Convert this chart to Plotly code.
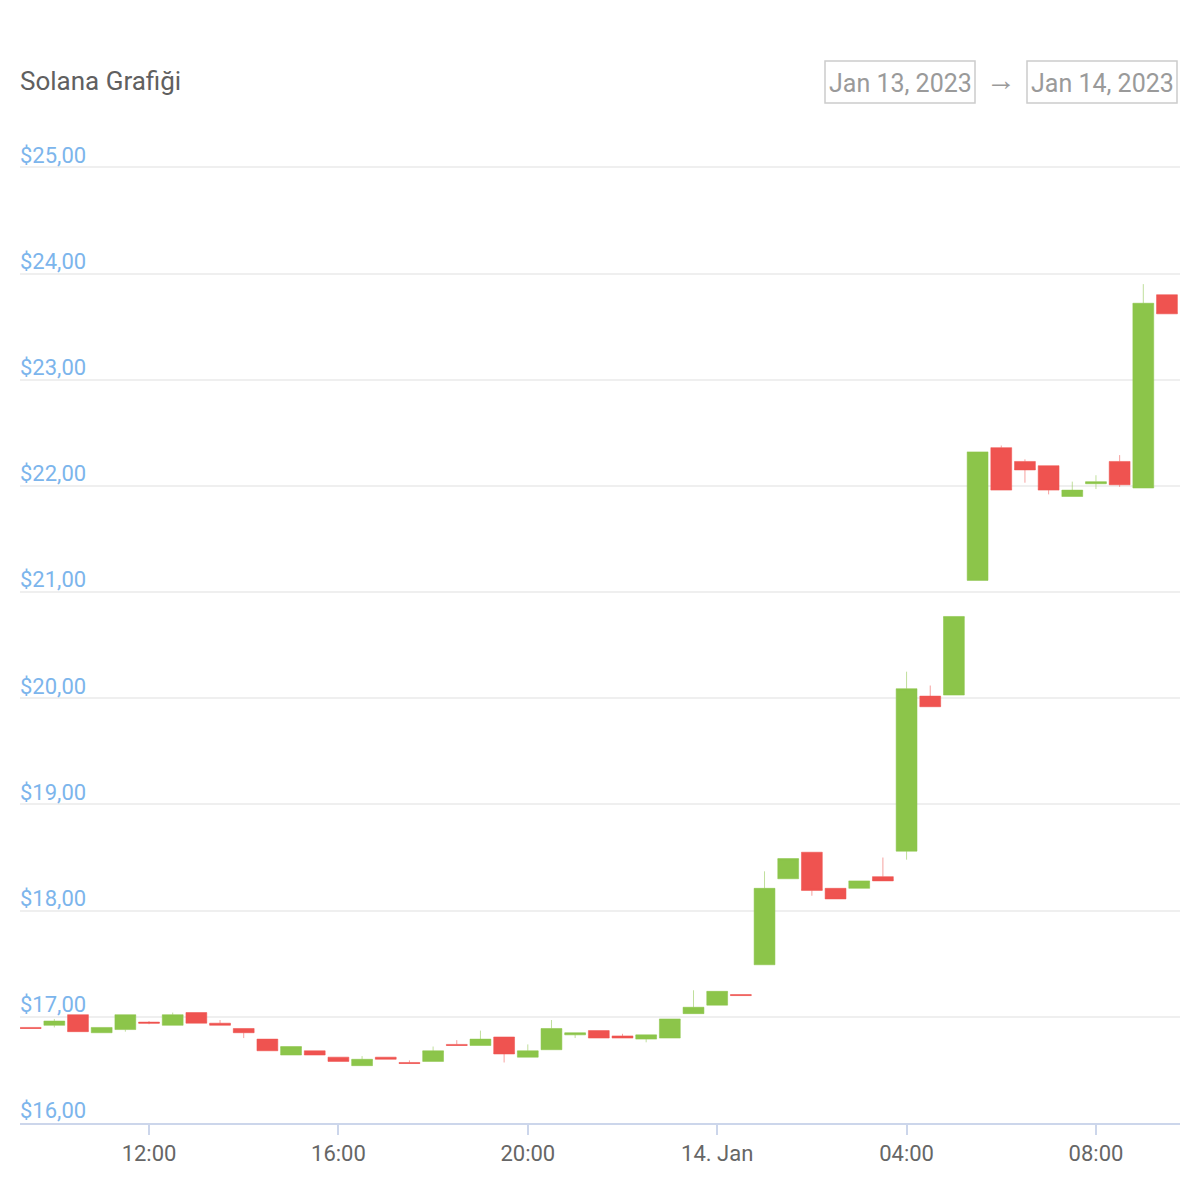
import pandas as pd
import plotly.graph_objects as go

times = pd.date_range("2023-01-13 09:30", "2023-01-14 09:30", freq="30min")
opens = [16.90, 16.92, 17.02, 16.85, 16.88, 16.95, 16.92, 17.04, 16.94, 16.89,
         16.79, 16.64, 16.68, 16.62, 16.54, 16.62, 16.57, 16.58, 16.74, 16.73,
         16.81, 16.62, 16.69, 16.83, 16.87, 16.82, 16.79, 16.80, 17.03, 17.11,
         17.21, 17.49, 18.30, 18.55, 18.21, 18.21, 18.32, 18.56, 20.02, 20.03,
         21.11, 22.36, 22.23, 22.19, 21.90, 22.02, 22.23, 21.98, 23.80]
highs = [16.90, 16.98, 17.02, 16.90, 17.02, 16.96, 17.04, 17.04, 16.97, 16.89,
         16.79, 16.72, 16.68, 16.62, 16.63, 16.62, 16.59, 16.72, 16.78, 16.87,
         16.81, 16.74, 16.97, 16.85, 16.87, 16.84, 16.83, 16.98, 17.25, 17.24,
         17.21, 18.37, 18.49, 18.55, 18.21, 18.28, 18.50, 20.25, 20.12, 20.77,
         22.32, 22.38, 22.25, 22.19, 22.04, 22.10, 22.29, 23.90, 23.80]
lows = [16.89, 16.90, 16.86, 16.85, 16.86, 16.93, 16.92, 16.94, 16.92, 16.80,
        16.68, 16.64, 16.64, 16.58, 16.54, 16.60, 16.56, 16.58, 16.73, 16.73,
        16.57, 16.62, 16.69, 16.80, 16.80, 16.80, 16.76, 16.80, 17.03, 17.11,
        17.20, 17.49, 18.30, 18.14, 18.11, 18.21, 18.28, 18.48, 19.92, 20.03,
        21.11, 21.96, 22.03, 21.92, 21.90, 21.97, 21.99, 21.98, 23.62]
closes = [16.89, 16.96, 16.86, 16.90, 17.02, 16.94, 17.02, 16.94, 16.92, 16.85,
          16.68, 16.72, 16.64, 16.58, 16.60, 16.60, 16.56, 16.68, 16.73, 16.79,
          16.65, 16.68, 16.89, 16.85, 16.80, 16.80, 16.83, 16.98, 17.09, 17.24,
          17.20, 18.21, 18.49, 18.19, 18.11, 18.28, 18.28, 20.09, 19.92, 20.77,
          22.32, 21.96, 22.15, 21.96, 21.96, 22.04, 22.01, 23.72, 23.62]

y_ticks = [16, 17, 18, 19, 20, 21, 22, 23, 24, 25]
y_tick_text = [f"${v},00" for v in y_ticks]
x_ticks = ["2023-01-13 12:00", "2023-01-13 16:00", "2023-01-13 20:00",
           "2023-01-14 00:00", "2023-01-14 04:00", "2023-01-14 08:00"]
x_tick_text = ["12:00", "16:00", "20:00", "14. Jan", "04:00", "08:00"]

title_text = "Solana Grafiği"
date_from = "Jan 13, 2023"
date_to = "Jan 14, 2023"

GREEN = "#8cc54a"
RED = "#ef5350"

# pixel -> paper helpers (plot area: x 20..1180, y 162..1123)
def px(x):
    return (x - 20) / 1160

def py(y):
    return (1123 - y) / 961

fig = go.Figure(go.Candlestick(
    x=times, open=opens, high=highs, low=lows, close=closes,
    increasing=dict(fillcolor=GREEN, line=dict(color="rgba(140,197,74,0.55)", width=1)),
    decreasing=dict(fillcolor=RED, line=dict(color="rgba(239,83,80,0.55)", width=1)),
    whiskerwidth=0, showlegend=False,
))

box_style = dict(type="rect", xref="paper", yref="paper",
                 line=dict(color="#cccccc", width=1.5), fillcolor="rgba(0,0,0,0)")

fig.update_layout(
    width=1200, height=1200,
    margin=dict(l=20, r=20, t=162, b=77),
    paper_bgcolor="white", plot_bgcolor="white",
    font=dict(family="Roboto", color="#666666"),
    boxgap=0.12, boxgroupgap=0,
    xaxis=dict(
        type="date",
        range=["2023-01-13 09:16:30", "2023-01-14 09:46:30"],
        rangeslider=dict(visible=False),
        tickvals=x_ticks, ticktext=x_tick_text,
        tickfont=dict(size=22, color="#666666"),
        showgrid=False, showline=True, linecolor="#ccd6eb", linewidth=1.5,
        ticks="outside", ticklen=10, tickcolor="#ccd6eb", tickwidth=1.5,
        zeroline=False,
    ),
    yaxis=dict(
        range=[16, 25.05],
        tickvals=y_ticks, ticktext=y_tick_text,
        ticklabelposition="inside top", ticklabeloverflow="allow",
        ticklabelstandoff=-3, ticklabelshift=3,
        tickfont=dict(size=22, color="#7cb5ec"),
        showgrid=True, gridcolor="#efefef", gridwidth=1.5,
        zeroline=False, showline=False, ticks="",
    ),
    shapes=[
        dict(**box_style, x0=px(825), x1=px(975), y0=py(103), y1=py(61)),
        dict(**box_style, x0=px(1027), x1=px(1177), y0=py(103), y1=py(61)),
    ],
    annotations=[
        dict(text=title_text, xref="paper", yref="paper", x=0, y=py(81),
             xanchor="left", yanchor="middle", xshift=-2,
             showarrow=False, font=dict(size=26, color="#606060")),
        dict(text=date_from, xref="paper", yref="paper", x=px(900), y=py(83),
             xanchor="center", yanchor="middle", showarrow=False,
             font=dict(size=25, color="#9a9a9a")),
        dict(text="→", xref="paper", yref="paper", x=px(1001), y=py(79),
             xanchor="center", yanchor="middle", showarrow=False,
             font=dict(size=30, color="#9a9a9a")),
        dict(text=date_to, xref="paper", yref="paper", x=px(1102), y=py(83),
             xanchor="center", yanchor="middle", showarrow=False,
             font=dict(size=25, color="#9a9a9a")),
    ],
)

fig.write_html("out.html")
